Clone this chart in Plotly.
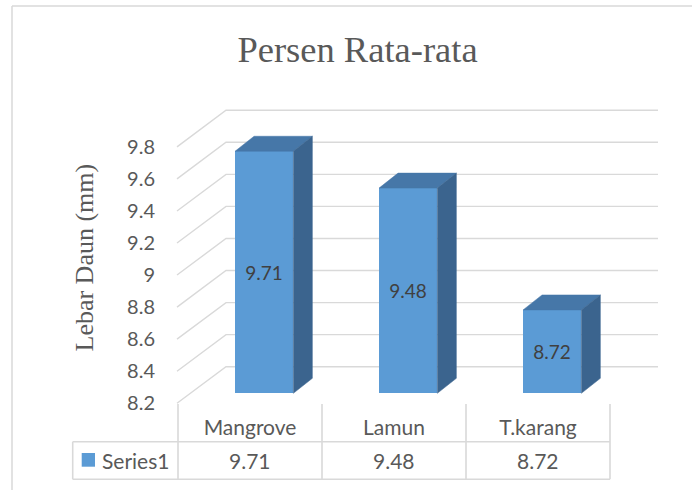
import plotly.graph_objects as go

# ---------------- data ----------------
categories = ["Mangrove", "Lamun", "T.karang"]
values = [9.71, 9.48, 8.72]
series_name = "Series1"
y_ticks = [8.2, 8.4, 8.6, 8.8, 9.0, 9.2, 9.4, 9.6, 9.8]
y_tick_labels = ["8.2", "8.4", "8.6", "8.8", "9", "9.2", "9.4", "9.6", "9.8"]
title_text = "Persen Rata-rata"
y_title = "Lebar Daun (mm)"

# ---------------- geometry (pixels) ----------------
W, H = 692, 490
X0 = 250.0    # front-plane pixel x of first category centre
XS = 144.0    # pixels per category
Y0 = 403.3    # front-plane pixel y of axis minimum
YS = 160.3    # pixels per value unit
YMIN = y_ticks[0]

def dx(p):
    return p / XS

def dy(p):
    return p / YS

def xdata(px):
    return (px - X0) / XS

def py(p):
    return 1 - p / H

def pxp(p):
    return p / W

x_range = [xdata(0), xdata(W)]
y_range = [YMIN - (H - Y0) / YS, YMIN + Y0 / YS]

GRID = "#D9D9D9"
TXT = "#595959"
SANS = "Lato"
SERIF = "Liberation Serif"
FRONT = "#5B9BD5"
TOP = "#4677A8"
SIDE = "#3B648E"

shapes = []

# back wall / left wall grid lines
wall_dx, wall_dy = dx(49), dy(36.6)
xl_front = xdata(177)
xr_back = xdata(658)
for v in y_ticks:
    path = (f"M {xl_front},{v} L {xl_front + wall_dx},{v + wall_dy} "
            f"L {xr_back},{v + wall_dy}")
    shapes.append(dict(type="path", path=path, xref="x", yref="y",
                       line=dict(color=GRID, width=1.4), layer="below"))

fig = go.Figure()

# bars: front faces
bar_dx, bar_dy = dx(14.2), dy(10)
bar_w = dx(58.3)
ddx, ddy = dx(19), dy(15)
xs = [i + bar_dx for i in range(len(values))]
fig.add_trace(go.Bar(
    x=xs, y=[v - YMIN for v in values], base=YMIN + bar_dy, width=bar_w,
    marker=dict(color=FRONT, line=dict(width=0)),
    text=[f"{v:.2f}" for v in values], textposition="inside",
    insidetextanchor="middle", textangle=0,
    textfont=dict(family=SANS, size=19, color="#404040"),
    showlegend=False, hoverinfo="skip", name=series_name))

# top and side faces
for xc, v in zip(xs, values):
    xl, xr = xc - bar_w / 2, xc + bar_w / 2
    b, t = YMIN + bar_dy, v + bar_dy
    fig.add_trace(go.Scatter(
        x=[xl, xr, xr + ddx, xl + ddx, xl], y=[t, t, t + ddy, t + ddy, t],
        fill="toself", fillcolor=TOP, mode="lines",
        line=dict(color=TOP, width=0.5), showlegend=False, hoverinfo="skip"))
    fig.add_trace(go.Scatter(
        x=[xr, xr + ddx, xr + ddx, xr, xr], y=[b, b + ddy, t + ddy, t, b],
        fill="toself", fillcolor=SIDE, mode="lines",
        line=dict(color=SIDE, width=0.5), showlegend=False, hoverinfo="skip"))

# ---------------- data table ----------------
t_top, t_mid, t_bot = 404, 441.7, 479.3
t_left = xdata(72.7)
n = len(categories)
for i in range(n + 1):
    shapes.append(dict(type="line", xref="x", yref="paper",
                       x0=i - 0.5, x1=i - 0.5, y0=py(t_top), y1=py(t_bot),
                       line=dict(color=GRID, width=1.6)))
shapes.append(dict(type="line", xref="x", yref="paper", x0=t_left, x1=t_left,
                   y0=py(t_mid), y1=py(t_bot), line=dict(color=GRID, width=1.6)))
for yy in (t_mid, t_bot):
    shapes.append(dict(type="line", xref="x", yref="paper", x0=t_left,
                       x1=n - 0.5, y0=py(yy), y1=py(yy),
                       line=dict(color=GRID, width=1.6)))
# legend key in table
shapes.append(dict(type="rect", xref="paper", yref="paper",
                   x0=pxp(81.7), x1=pxp(95), y0=py(453), y1=py(466.7),
                   fillcolor=FRONT, line=dict(width=0)))
# outer chart border (top and left visible)
shapes.append(dict(type="line", xref="paper", yref="paper", x0=pxp(12), x1=1.02,
                   y0=py(6), y1=py(6), line=dict(color=GRID, width=1.5)))
shapes.append(dict(type="line", xref="paper", yref="paper", x0=pxp(12), x1=pxp(12),
                   y0=py(6), y1=-0.02, line=dict(color=GRID, width=1.5)))

annotations = []
for i, v in enumerate(values):
    annotations.append(dict(x=i, y=py(460.5), xref="x", yref="paper",
                            text=f"{v:.2f}", showarrow=False,
                            font=dict(family=SANS, size=21, color=TXT),
                            xanchor="center", yanchor="middle"))
annotations.append(dict(x=pxp(100), y=py(460.5), xref="paper", yref="paper",
                        text=series_name, showarrow=False,
                        font=dict(family=SANS, size=21, color=TXT),
                        xanchor="left", yanchor="middle"))
annotations.append(dict(x=pxp(84), y=py(257.5), xref="paper", yref="paper",
                        text=y_title, textangle=-90, showarrow=False,
                        font=dict(family=SERIF, size=26, color=TXT),
                        xanchor="center", yanchor="middle"))

fig.update_layout(
    width=W, height=H,
    margin=dict(l=0, r=0, t=0, b=0),
    paper_bgcolor="white", plot_bgcolor="white",
    title=dict(text=title_text, x=pxp(357.5), xanchor="center",
               y=py(49), yanchor="middle",
               font=dict(family=SERIF, size=36.5, color=TXT)),
    xaxis=dict(domain=[0, 1], range=x_range, showgrid=False, zeroline=False,
               showline=False, tickvals=list(range(n)), ticktext=categories,
               anchor="free", position=py(405), ticks="",
               ticklabelstandoff=8,
               tickfont=dict(family=SANS, size=21, color=TXT),
               fixedrange=True),
    yaxis=dict(domain=[0, 1], range=y_range, showgrid=False, zeroline=False,
               showline=False, tickvals=y_ticks, ticktext=y_tick_labels,
               anchor="free", position=pxp(177), ticks="",
               ticklabelstandoff=22,
               tickfont=dict(family=SANS, size=20, color=TXT),
               fixedrange=True),
    shapes=shapes, annotations=annotations,
    showlegend=False, bargap=0,
)

fig.write_html("out.html")
